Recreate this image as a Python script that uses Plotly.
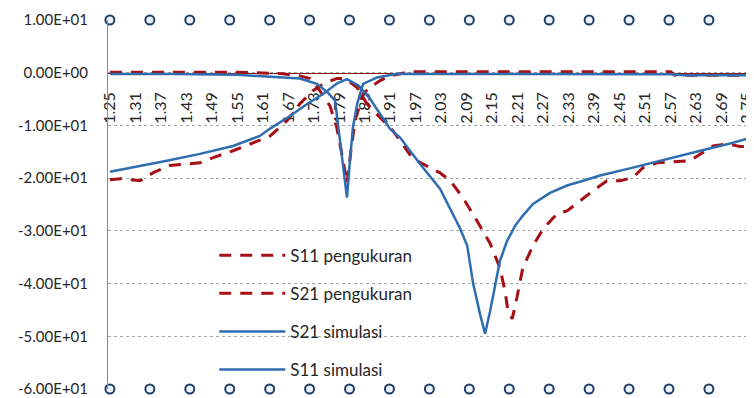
import plotly.graph_objects as go

# ---------------- data ----------------
s21_sim_f = [1.25, 1.304, 1.384, 1.462, 1.540, 1.603, 1.627, 1.674, 1.715, 1.756, 1.785, 1.808,
             1.835, 1.862, 1.886, 1.909, 1.933, 1.980, 2.027, 2.074, 2.091, 2.105, 2.121, 2.133,
             2.145, 2.161, 2.168, 2.185, 2.204, 2.222, 2.246, 2.286, 2.326, 2.364, 2.404,
             2.481, 2.562, 2.640, 2.717, 2.75]
s21_sim_v = [-18.8, -18.0, -16.7, -15.4, -13.9, -12.0, -10.6, -8.2, -5.9, -3.8, -2.0, -1.2,
             -2.4, -4.9, -7.8, -10.6, -12.3, -17.3, -22.0, -29.5, -32.8, -40.0, -45.7, -49.5,
             -45.2, -38.1, -35.7, -31.9, -29.0, -27.1, -24.9, -22.8, -21.4, -20.5, -19.5,
             -18.0, -16.3, -14.8, -13.3, -12.5]

s21_meas_f = [1.25, 1.274, 1.321, 1.351, 1.391, 1.431, 1.462, 1.493, 1.540, 1.587, 1.627, 1.667,
              1.697, 1.728, 1.752, 1.784, 1.803, 1.832, 1.855, 1.886, 1.916, 1.933, 1.963, 2.003,
              2.027, 2.051, 2.081, 2.114, 2.145, 2.168, 2.180, 2.187, 2.197, 2.208, 2.222, 2.246,
              2.270, 2.302, 2.326, 2.357, 2.387, 2.420, 2.451, 2.481, 2.505, 2.538, 2.585, 2.616,
              2.640, 2.670, 2.703, 2.733, 2.75]
s21_meas_v = [-20.3, -20.1, -20.5, -19.0, -17.6, -17.3, -17.1, -16.1, -14.8, -13.3, -12.0, -9.1,
              -5.9, -3.4, -2.1, -1.1, -1.1, -2.8, -5.9, -8.5, -11.0, -12.9, -16.3, -18.0,
              -19.0, -20.5, -23.7, -28.1, -32.4, -37.0, -41.4, -45.2, -46.7, -42.7, -37.0, -32.8,
              -29.6, -26.8, -26.2, -24.3, -22.4, -20.5, -20.5, -19.9, -18.0, -17.1, -16.9, -16.7,
              -15.4, -13.9, -13.5, -14.0, -14.0]

s11_sim_f = [1.25, 1.40, 1.55, 1.65, 1.697, 1.737, 1.763, 1.780, 1.787, 1.796, 1.803, 1.808,
             1.815, 1.822, 1.832, 1.846, 1.879, 1.926, 2.00, 2.57, 2.60, 2.75]
s11_sim_v = [-0.25, -0.25, -0.4, -0.8, -1.1, -2.1, -3.8, -5.3, -9.7, -15.4, -19.9, -23.7,
             -16.7, -10.4, -5.9, -2.1, -0.9, -0.2, -0.25, -0.3, -0.5, -0.5]

s11_meas_f = [1.25, 1.55, 1.657, 1.697, 1.721, 1.744, 1.768, 1.784, 1.799, 1.808, 1.817, 1.827,
              1.846, 1.862, 1.886, 1.909, 1.956, 2.57, 2.58, 2.75]
s11_meas_v = [0.1, 0.1, -0.2, -0.6, -1.1, -3.4, -6.3, -10.4, -16.7, -21.0, -15.0, -9.1,
              -4.0, -2.8, -1.5, -0.6, 0.2, 0.2, -0.5, -0.5]

marker_f = [1.25, 1.344, 1.438, 1.532, 1.626, 1.72, 1.814, 1.908, 2.002, 2.096, 2.19,
            2.284, 2.378, 2.472, 2.566, 2.66]
marker_top = [10] * len(marker_f)
marker_bottom = [-60] * len(marker_f)

x_ticks = [1.25, 1.31, 1.37, 1.43, 1.49, 1.55, 1.61, 1.67, 1.73, 1.79, 1.85, 1.91, 1.97,
           2.03, 2.09, 2.15, 2.21, 2.27, 2.33, 2.39, 2.45, 2.51, 2.57, 2.63, 2.69, 2.75]
y_ticks = [10, 0, -10, -20, -30, -40, -50, -60]
y_tick_text = ["1.00E+01", "0.00E+00", "-1.00E+01", "-2.00E+01", "-3.00E+01",
               "-4.00E+01", "-5.00E+01", "-6.00E+01"]

RED = "#A50F15"
BLUE = "#2E6DB0"
FONT = "Lato"

fig = go.Figure()

fig.add_trace(go.Scatter(x=s11_meas_f, y=s11_meas_v, mode="lines", name="S11 pengukuran",
                         line=dict(color=RED, width=3, dash="12px,9px"), legendgroup="a"))
fig.add_trace(go.Scatter(x=s21_meas_f, y=s21_meas_v, mode="lines", name="S21 pengukuran",
                         line=dict(color=RED, width=3, dash="12px,9px"), legendgroup="b"))
fig.add_trace(go.Scatter(x=s21_sim_f, y=s21_sim_v, mode="lines", name="S21 simulasi",
                         line=dict(color=BLUE, width=2.5), legendgroup="c"))
fig.add_trace(go.Scatter(x=s11_sim_f, y=s11_sim_v, mode="lines", name="S11 simulasi",
                         line=dict(color=BLUE, width=2.5), legendgroup="d"))

for yy in (marker_top, marker_bottom):
    fig.add_trace(go.Scatter(x=marker_f, y=yy, mode="markers", showlegend=False,
                             cliponaxis=False,
                             marker=dict(symbol="circle", size=9, color="#EAF1FA",
                                         line=dict(color="#1F3F66", width=2))))

# the page body has an 8px default margin, so the figure is sized/margined to compensate
fig.update_layout(
    width=746, height=390,
    margin=dict(l=100, r=6, t=12, b=9),
    paper_bgcolor="white", plot_bgcolor="white",
    font=dict(family=FONT, size=15, color="#262626"),
    showlegend=True,
    legend=dict(x=0.166, y=0.41, xanchor="left", yanchor="top",
                bgcolor="rgba(0,0,0,0)", font=dict(size=17, family=FONT, color="#262626"),
                traceorder="grouped", tracegroupgap=13, itemwidth=66),
    xaxis=dict(range=[1.2455, 2.752], anchor="free", position=60 / 70,
               tickmode="array", tickvals=x_ticks,
               ticktext=[f"{v:.2f}" for v in x_ticks],
               tickangle=-90, tickfont=dict(size=16, family=FONT, color="#262626"),
               ticks="", ticklabelstandoff=12, automargin=False,
               ticklabeloverflow="allow",
               showgrid=False, zeroline=False,
               showline=True, linecolor="#8B1A1A", linewidth=1, layer="below traces"),
    yaxis=dict(range=[-60, 10], tickmode="array", tickvals=y_ticks, ticktext=y_tick_text,
               showgrid=True, gridcolor="#A6A6A6", griddash="dot", gridwidth=1,
               zeroline=False, showline=True, linecolor="#8C8C8C", linewidth=1,
               ticks="", ticklabelstandoff=16, automargin=False,
               tickfont=dict(size=15, family=FONT, color="#262626")),
)

fig.write_html("out.html")
